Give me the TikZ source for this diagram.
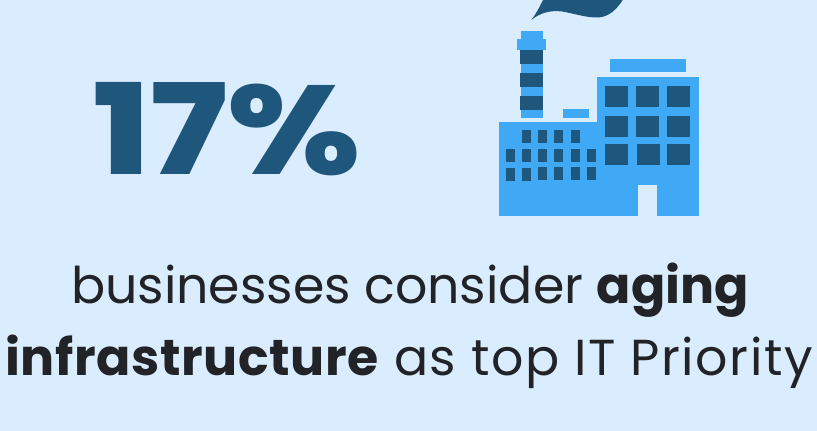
\documentclass[tikz,border=0pt]{standalone}
\usepackage{fontspec}
\setmainfont{Poppins}[BoldFont={Poppins Bold}]
\newfontfamily\heavyfont{Poppins ExtraBold}
\newfontfamily\widefont{Poppins}[LetterSpace=3.0,BoldFont={Poppins Bold},BoldFeatures={LetterSpace=1.1}]
\definecolor{bgc}{HTML}{DAEDFF}
\definecolor{lightb}{HTML}{3FA9F5}
\definecolor{darkb}{HTML}{1F567C}
\definecolor{inkc}{HTML}{222326}
\tikzset{
  lightpart/.style={fill=lightb,draw=none},
  darkpart/.style={fill=darkb,draw=none},
  txt/.style={text=inkc,inner sep=0pt,anchor=base,font=\fontsize{50.6}{51}\selectfont}
}
\newcommand{\win}[3]{\fill[darkpart] (#1,#2) rectangle ++(#3);}
\begin{document}
\begin{tikzpicture}[x=1pt,y=-1pt]
\useasboundingbox (0,0) rectangle (817,431);
\fill[bgc] (0,0) rectangle (817,431);
% smoke
\fill[darkpart] (531.3,20) .. controls (536,14) and (540,6) .. (543,0) -- (622.7,0)
  .. controls (617,9) and (609,17) .. (598,17.5)
  .. controls (587,18) and (572,13) .. (562,11.5)
  .. controls (550,10) and (540,13) .. (531.3,20) -- cycle;
% chimney
\fill[lightpart] (521,30.7) rectangle (543,39.5);
\fill[lightpart] (517.3,39.3) rectangle (546,50);
\fill[lightpart] (521,50) rectangle (543,118);
\fill[darkpart] (520,50) rectangle (543,64);
\fill[darkpart] (520,73) rectangle (543,87);
\fill[darkpart] (520,96) rectangle (543,110);
% small block and roof
\fill[lightpart] (563,109) rectangle (589,118);
\fill[lightpart] (610,59) rectangle (686,72);
% buildings
\fill[lightpart] (499,122) rectangle (597,216);
\fill[lightpart] (596.7,77.3) rectangle (699,216);
\fill[bgc] (638,185) rectangle (657,216);
% large windows
\foreach \x in {605,636,667} {\win{\x}{86}{23,21}\win{\x}{116}{23,21}}
\foreach \x in {605,637,667} {\win{\x}{144}{23,21}}
% small windows
\foreach \x in {522,538,554,571} {\win{\x}{130}{9,13}}
\foreach \x in {506,522,538,554,571,587} {\win{\x}{149}{9,13}}
\foreach \x in {506,522} {\win{\x}{168}{9,13}}
\foreach \x in {538,554,571,587} {\win{\x}{167}{9,13}}
% text
\node[inner sep=0pt,anchor=base,text=darkb,xscale=1.17] (pct) at (227,174) {\heavyfont\fontsize{126}{126}\selectfont 17\%};
\node[txt] (lineone) at (410,303) {businesses consider \textbf{aging}};
\node[txt] (linetwo) at (409,375) {\widefont\textbf{infrastructure} as top IT Priority};
\end{tikzpicture}
\end{document}
